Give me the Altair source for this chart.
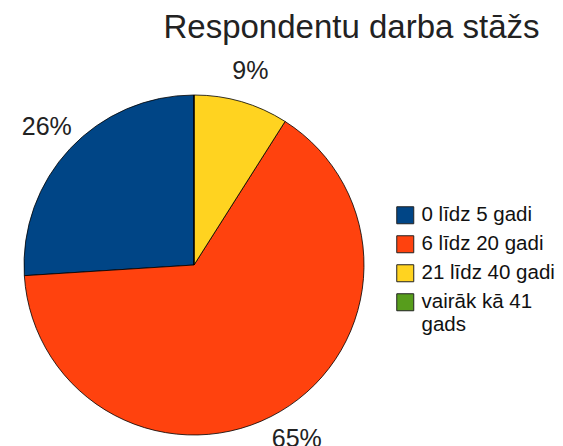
import altair as alt
import pandas as pd

categories = ["0 līdz 5 gadi", "6 līdz 20 gadi", "21 līdz 40 gadi", "vairāk kā 41 gads"]
percent = [26, 65, 9, 0]
colors = ["#004586", "#ff420e", "#ffd320", "#579d1c"]
title_text = "Respondentu darba stāžs"
wrapped_label = ["vairāk kā 41", "gads"]

FONT = "Liberation Sans"

df = pd.DataFrame({"kategorija": categories, "procenti": percent, "idx": list(range(len(categories)))})

CX, CY, R = 186, 257, 170

base = alt.Chart(df).encode(
    theta=alt.Theta("procenti:Q", stack=True),
    order=alt.Order("idx:Q", sort="descending"),
)

pie = base.mark_arc(outerRadius=R, stroke="black", strokeWidth=0.8).encode(
    color=alt.Color(
        "kategorija:N",
        scale=alt.Scale(domain=categories, range=colors),
        sort=categories,
        legend=alt.Legend(
            title=None,
            orient="none",
            legendX=387,
            legendY=197,
            symbolType="square",
            symbolSize=289,
            symbolStrokeColor="#222",
            symbolStrokeWidth=1,
            labelFontSize=20.5,
            labelFont=FONT,
            labelColor="#111",
            labelOffset=6,
            labelLimit=300,
            rowPadding=7,
            labelExpr="datum.label == '" + categories[3] + "' ? ['" + wrapped_label[0] + "', '" + wrapped_label[1] + "'] : datum.label",
        ),
    ),
    x=alt.value(CX),
    y=alt.value(CY),
)

labels = base.transform_filter("datum.procenti > 0").transform_calculate(
    label="datum.procenti + '%'"
).mark_text(radius=202, fontSize=25, font=FONT, color="#222").encode(
    text="label:N",
    x=alt.value(CX),
    y=alt.value(CY),
)

title = alt.Chart(pd.DataFrame({"t": [title_text]})).mark_text(
    fontSize=33, font=FONT, color="#222", baseline="alphabetic", align="center"
).encode(text="t:N", x=alt.value(343.5), y=alt.value(30))

chart = alt.layer(pie, labels, title).properties(
    width=547, height=438, autosize=alt.AutoSizeParams(type="none"), padding=0, background="white"
).configure_view(stroke=None)

chart.save("out.html", embed_options={"renderer": "svg", "actions": False})
